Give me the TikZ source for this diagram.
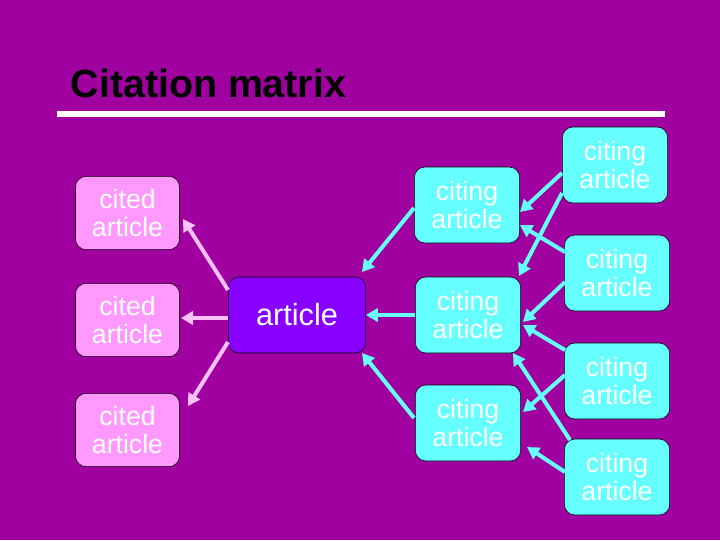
\documentclass[tikz,border=0pt]{standalone}
\usepackage{fontspec}
\setmainfont{Liberation Sans}
\usetikzlibrary{arrows.meta}
\definecolor{bg}{HTML}{A000A0}
\definecolor{pinkf}{HTML}{FF99FF}
\definecolor{pinka}{HTML}{FFC0FF}
\definecolor{cyanf}{HTML}{66FFFF}
\definecolor{artf}{HTML}{8800FF}
\begin{document}
\begin{tikzpicture}[x=0.75pt,y=-0.75pt,
  box/.style={draw=black,rounded corners=8pt,text=white,align=center,font=\fontsize{20}{21}\selectfont,inner sep=0pt},
  cited/.style={box,fill=pinkf,minimum width=78pt,minimum height=55pt},
  citing/.style={box,fill=cyanf,minimum width=79pt,minimum height=57pt},
  pa/.style={draw=pinka,line width=3pt,-{Triangle[length=9pt,width=10pt]}},
  ca/.style={draw=cyanf,line width=3pt,-{Triangle[length=9pt,width=10pt]}}]
\fill[bg] (0,0) rectangle (720,540);
\useasboundingbox (0,0) rectangle (720,540);
\node[anchor=west,font=\bfseries\fontsize{29.5}{32}\selectfont] (title) at (66,83) {Citation matrix};
\draw[white,line width=4pt] (57,114) -- (665,114);
\node[cited] (c1) at (127.5,213) {cited\\article};
\node[cited] (c2) at (127.5,320) {cited\\article};
\node[cited] (c3) at (127.5,430) {cited\\article};
\node[box,fill=artf,minimum width=103pt,minimum height=57pt,font=\fontsize{23}{25}\selectfont] (a) at (297,315) {article};
\node[citing] (m1) at (467,205) {citing\\article};
\node[citing] (m2) at (468,315) {citing\\article};
\node[citing] (m3) at (468,423) {citing\\article};
\node[citing] (r1) at (615,165) {citing\\article};
\node[citing] (r2) at (617,273) {citing\\article};
\node[citing] (r3) at (617,381) {citing\\article};
\node[citing] (r4) at (617,477) {citing\\article};
\coordinate (p0) at (228,290); \coordinate (p1) at (183,219);
\draw[pa] (p0) -- (p1);
\coordinate (p2) at (228,318); \coordinate (p3) at (181,318);
\draw[pa] (p2) -- (p3);
\coordinate (p4) at (228,342); \coordinate (p5) at (188,406);
\draw[pa] (p4) -- (p5);
\coordinate (q0) at (414,208); \coordinate (q1) at (362,272);
\draw[ca] (q0) -- (q1);
\draw[ca] (m2.west) -- (a.east);
\coordinate (q2) at (414,418); \coordinate (q3) at (362,353);
\draw[ca] (q2) -- (q3);
\coordinate (s0) at (562,173); \coordinate (s1) at (520,212);
\draw[ca] (s0) -- (s1);
\coordinate (s2) at (562,193); \coordinate (s3) at (519,276);
\draw[ca] (s2) -- (s3);
\coordinate (s4) at (565,252); \coordinate (s5) at (520,225);
\draw[ca] (s4) -- (s5);
\coordinate (s6) at (565,282); \coordinate (s7) at (523,322);
\draw[ca] (s6) -- (s7);
\coordinate (s8) at (565,350); \coordinate (s9) at (523,325);
\draw[ca] (s8) -- (s9);
\coordinate (t0) at (565,375); \coordinate (t1) at (523,412);
\draw[ca] (t0) -- (t1);
\coordinate (t2) at (570,440); \coordinate (t3) at (513,353);
\draw[ca] (t2) -- (t3);
\coordinate (t4) at (565,472); \coordinate (t5) at (527,447);
\draw[ca] (t4) -- (t5);
\end{tikzpicture}
\end{document}
